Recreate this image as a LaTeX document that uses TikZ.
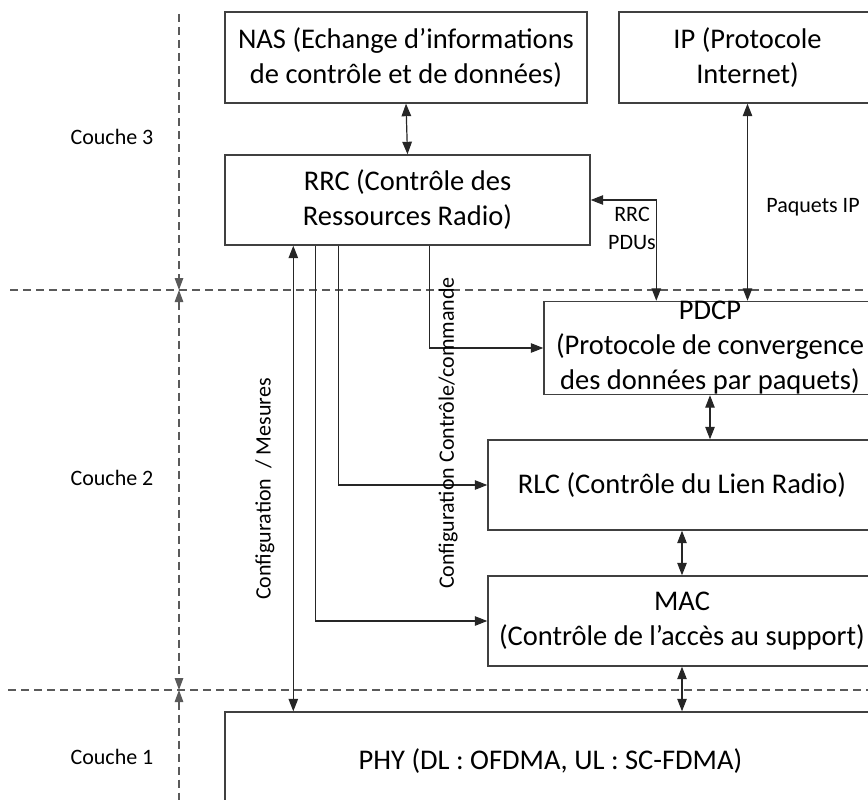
\documentclass[tikz,border=0pt]{standalone}
\usepackage{fontspec}
\setmainfont{Carlito}
\usetikzlibrary{arrows.meta}
\definecolor{boxgray}{HTML}{404040}
\definecolor{dashgray}{HTML}{5A5A5A}
\tikzset{
  blk/.style={draw=boxgray, line width=1.4pt, fill=white, inner sep=0pt, align=center,
    font=\fontsize{28.5}{35}\selectfont},
  lbl/.style={font=\fontsize{22}{28}\selectfont, inner sep=0pt, align=center},
  conn/.style={draw=black!85, line width=1.2pt},
  biarr/.style={conn, {Triangle[length=12.5pt,width=9.5pt]}-{Triangle[length=12.5pt,width=9.5pt]}},
  onearr/.style={conn, -{Triangle[length=12.5pt,width=9.5pt]}},
  layer/.style={draw=dashgray, line width=1.3pt, dash pattern=on 8pt off 5pt},
}
\begin{document}
\begin{tikzpicture}[x=1pt,y=-1pt]
\useasboundingbox (0,0) rectangle (868,800);
\clip (0,0) rectangle (868,800);
% layer separators
\coordinate (h3l) at (10,290);
\coordinate (h3r) at (868,290);
\coordinate (h1l) at (8,690);
\coordinate (h1r) at (868,690);
\coordinate (vtop) at (179,14);
\coordinate (v3) at (179,290);
\coordinate (v1) at (179,690);
\coordinate (vbot) at (179,800);
\draw[layer] (h3l) -- (h3r);
\draw[layer] (h1l) -- (h1r);
\draw[layer, -{Triangle[length=12pt,width=8.5pt]}] (vtop) -- (v3);
\draw[layer, {Triangle[length=12pt,width=8.5pt]}-{Triangle[length=12pt,width=8.5pt]}] (v3) -- (v1);
\draw[layer, {Triangle[length=12pt,width=8.5pt]}-] (v1) -- (vbot);
% layer labels
\node[lbl] (c3) at (112,137) {Couche 3};
\node[lbl] (c2) at (112,478) {Couche 2};
\node[lbl] (c1) at (112,757) {Couche 1};
% boxes
\node[blk, minimum width=362pt, minimum height=91pt] (NAS) at (406,57.5)
  {NAS (Echange d’informations\\de contrôle et de données)};
\node[blk, minimum width=257pt, minimum height=91pt] (IP) at (747.5,57.5)
  {IP (Protocole\\Internet)};
\node[blk, minimum width=365pt, minimum height=90pt] (RRC) at (407.5,200)
  {RRC (Contrôle des\\Ressources Radio)};
\node[blk, minimum width=332pt, minimum height=90pt] (PDCP) at (710,348)
  {PDCP\\(Protocole de convergence\\des données par paquets)};
\node[blk, minimum width=388pt, minimum height=90pt] (RLC) at (682,485)
  {RLC (Contrôle du Lien Radio)};
\node[blk, minimum width=388pt, minimum height=90pt] (MAC) at (682,621)
  {MAC\\(Contrôle de l’accès au support)};
\node[blk, minimum width=651pt, minimum height=98pt] (PHY) at (550.5,761)
  {PHY (DL : OFDMA, UL : SC-FDMA)};
% connectors
\draw[biarr] (NAS.south) -- (RRC.north);
\draw[biarr] (IP.south) -- (IP.south |- PDCP.north);
\draw[biarr] (RRC.east) -| ([xshift=113pt]PDCP.north west);
\draw[biarr] (PDCP.south) -- (PDCP.south |- RLC.north);
\draw[biarr] (RLC.south) -- (MAC.north);
\draw[biarr] (MAC.south) -- (MAC.south |- PHY.north);
\draw[biarr] ([xshift=69pt]RRC.south west) -- ([xshift=69pt]RRC.south west |- PHY.north);
\draw[onearr] ([xshift=91pt]RRC.south west) |- (MAC.west);
\draw[onearr] ([xshift=114pt]RRC.south west) |- (RLC.west);
\draw[onearr] ([xshift=205pt]RRC.south west) |- (PDCP.west);
% connector labels
\node[lbl] (pdus) at (632,228) {RRC\\PDUs};
\node[lbl] (pip) at (813,207) {Paquets IP};
\node[lbl, rotate=90] (cm) at (265,489) {Configuration\ \ / Mesures};
\node[lbl, rotate=90] (ccc) at (448,433) {Configuration Contrôle/commande};
\end{tikzpicture}
\end{document}
